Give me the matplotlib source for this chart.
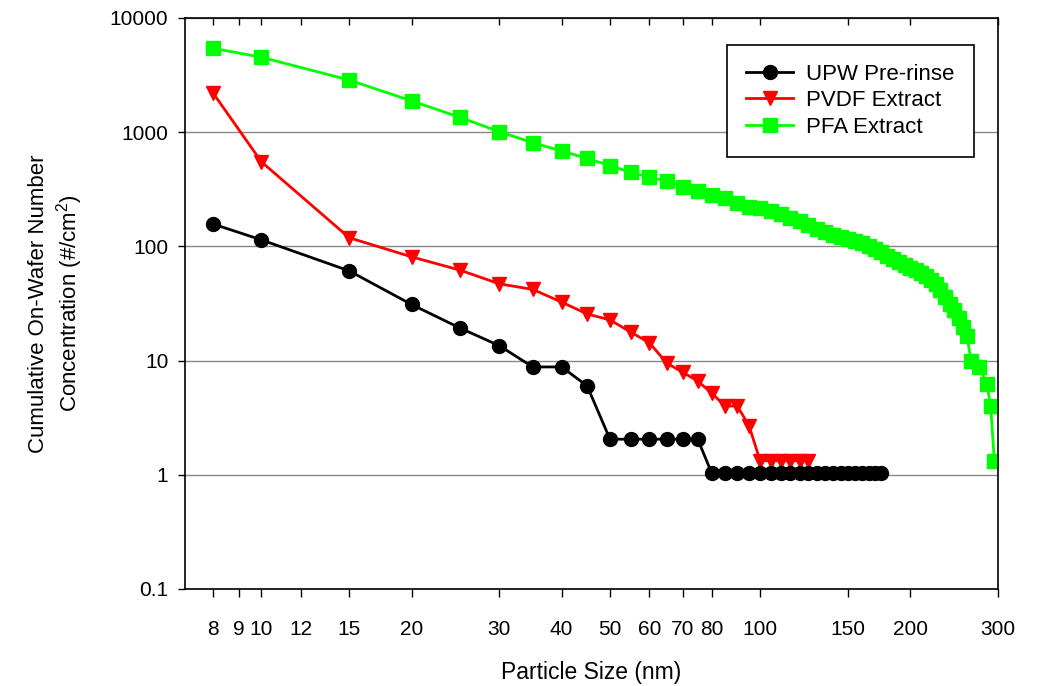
import matplotlib
matplotlib.use('Agg')
import matplotlib.pyplot as plt
from matplotlib.ticker import FixedLocator, FixedFormatter, NullLocator

plt.rcParams['font.family'] = ['Liberation Sans', 'DejaVu Sans']
plt.rcParams['mathtext.fontset'] = 'custom'
plt.rcParams['mathtext.rm'] = 'Liberation Sans'
plt.rcParams['mathtext.default'] = 'regular'

# UPW pre-rinse
upw_size = [8, 10, 15, 20, 25, 30, 35, 40, 45, 50, 55, 60, 65, 70, 75,
            80, 85, 90, 95, 100, 105, 110, 115, 120, 125, 130, 135, 140,
            145, 150, 155, 160, 165, 170, 175]
upw_conc = [157, 114, 61, 31, 19.3, 13.5, 8.8, 8.8, 6.0, 2.05, 2.05, 2.05,
            2.05, 2.05, 2.05, 1.03, 1.03, 1.03, 1.03, 1.03, 1.03, 1.03, 1.03,
            1.03, 1.03, 1.03, 1.03, 1.03, 1.03, 1.03, 1.03, 1.03, 1.03, 1.03,
            1.03]

# PVDF extract
pvdf_size = [8, 10, 15, 20, 25, 30, 35, 40, 45, 50, 55, 60, 65, 70, 75,
             80, 85, 90, 95, 100, 105, 110, 115, 120, 125]
pvdf_conc = [2200, 550, 119, 81, 62, 47, 42, 32.5, 25.6, 22.7, 17.8, 14.3,
             9.5, 7.9, 6.6, 5.2, 4.0, 4.0, 2.7, 1.33, 1.33, 1.33, 1.33,
             1.33, 1.33]

# PFA extract
pfa_size = [8, 10, 15, 20, 25, 30, 35, 40, 45, 50, 55, 60, 65, 70, 75,
            80, 85, 90, 95, 100, 105, 110, 115, 120, 125, 130, 135, 140,
            145, 150, 155, 160, 165, 170, 175, 180, 185, 190, 195, 200,
            205, 210, 215, 220, 225, 230, 235, 240, 245, 250, 255, 260,
            265, 275, 285, 290, 295]
pfa_conc = [5430, 4530, 2860, 1880, 1350, 1010, 810, 684, 590, 509, 446,
            403, 374, 333, 307, 282, 265, 242, 223, 215, 204, 194, 179,
            167, 154, 142, 134, 127, 122, 117, 111, 106, 101, 95, 88.5,
            82.4, 76.8, 72.3, 68.8, 65.3, 62.1, 57.9, 54.5, 50.8, 46.9,
            41.5, 36.0, 31.6, 27.6, 23.6, 19.5, 16.3, 10.0, 8.8, 6.3,
            4.0, 1.33]

x_ticks = [8, 9, 10, 12, 15, 20, 30, 40, 50, 60, 70, 80, 100, 150, 200, 300]
y_ticks = [0.1, 1, 10, 100, 1000, 10000]
y_tick_labels = ['0.1', '1', '10', '100', '1000', '10000']

fig = plt.figure(figsize=(10.4, 6.86), dpi=100)
ax = fig.add_axes([0.178, 0.1414, 0.7816, 0.8324])

l3, = ax.plot(pfa_size, pfa_conc, color='#00ff00', marker='s', ms=9.5,
              lw=2, label='PFA Extract')
l2, = ax.plot(pvdf_size, pvdf_conc, color='#ff0000', marker='v', ms=10.5,
              lw=2, label='PVDF Extract')
l1, = ax.plot(upw_size, upw_conc, color='black', marker='o', ms=10,
              lw=2, label='UPW Pre-rinse')

ax.set_xscale('log')
ax.set_yscale('log')
ax.set_xlim(7.03, 300)
ax.set_ylim(0.1, 10000)

ax.xaxis.set_major_locator(FixedLocator(x_ticks))
ax.xaxis.set_major_formatter(FixedFormatter([str(v) for v in x_ticks]))
ax.xaxis.set_minor_locator(NullLocator())
ax.yaxis.set_major_locator(FixedLocator(y_ticks))
ax.yaxis.set_major_formatter(FixedFormatter(y_tick_labels))
ax.yaxis.set_minor_locator(NullLocator())

ax.tick_params(axis='x', which='major', direction='out', length=6, width=1,
               pad=16, labelsize=15, top=False)
ax.tick_params(axis='y', which='major', direction='out', length=5, width=1,
               pad=7, labelsize=15, right=False)

# inward ticks on the top spine
top = ax.secondary_xaxis('top')
top.xaxis.set_major_locator(FixedLocator(x_ticks))
top.xaxis.set_minor_locator(NullLocator())
top.tick_params(direction='in', length=5, width=1, labeltop=False)
top.spines['top'].set_visible(False)

ax.grid(axis='y', which='major', color='#888888', lw=1)
ax.set_axisbelow(True)

for s in ax.spines.values():
    s.set_linewidth(1.2)

ax.set_xlabel('Particle Size (nm)', fontsize=16.5, labelpad=16)
ax.set_ylabel('Cumulative On-Wafer Number\nConcentration (#/cm$^2$)',
              fontsize=16, labelpad=18)

leg = ax.legend(handles=[l1, l2, l3], loc='upper right',
                bbox_to_anchor=(0.97, 0.953), fontsize=16, frameon=True,
                fancybox=False, framealpha=1, edgecolor='black',
                handlelength=2.1, handletextpad=0.6, borderpad=0.85,
                labelspacing=0.25, borderaxespad=0)
leg.get_frame().set_linewidth(1.2)

fig.savefig('out.png', dpi=100)
